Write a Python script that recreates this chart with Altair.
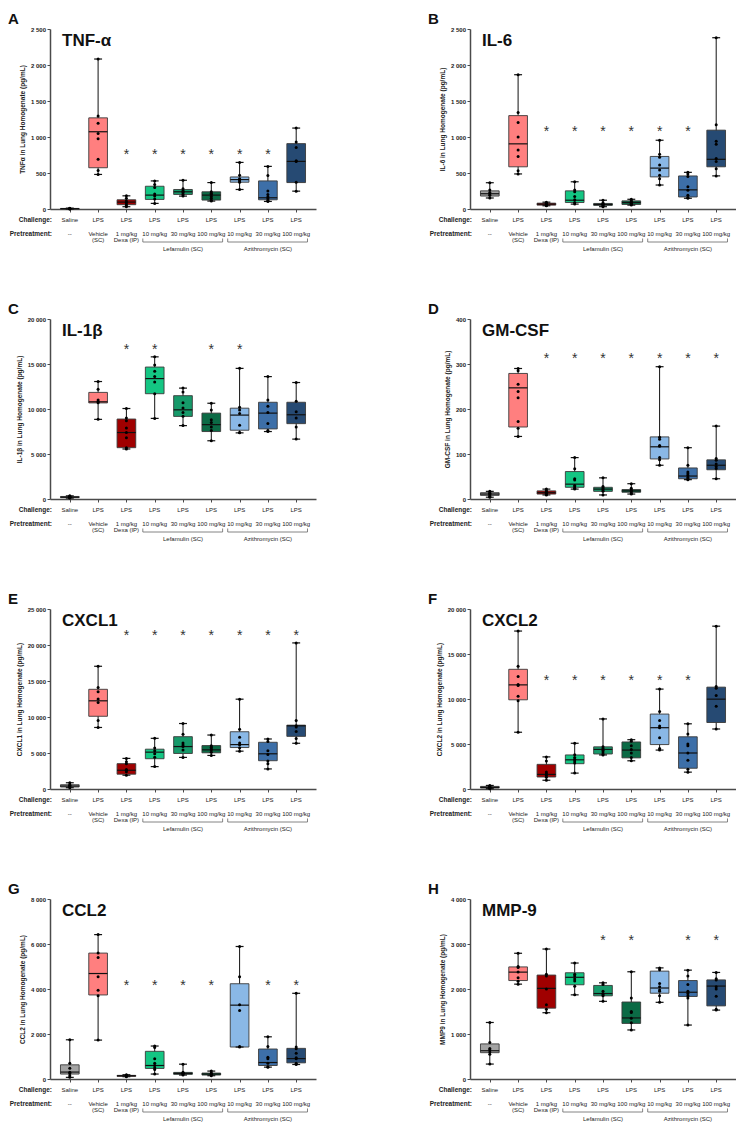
import altair as alt
import pandas as pd

FONT = "Liberation Sans"

groups = ["Saline", "Vehicle", "Dexa", "Lef10", "Lef30", "Lef100", "Azi10", "Azi30", "Azi100"]
colors = ["#a3a3a3", "#ff7f7f", "#a00000", "#14c683", "#169a6a", "#0b6a45", "#8ab8e6", "#3d6fa8", "#264a73"]
challenge = ["Saline"] + ["LPS"] * 8
pre_line1 = ["--", "Vehicle", "1 mg/kg", "10 mg/kg", "30 mg/kg", "100 mg/kg", "10 mg/kg", "30 mg/kg", "100 mg/kg"]
pre_line2 = ["", "(SC)", "Dexa (IP)", "", "", "", "", "", ""]
bracket_names = ["Lefamulin (SC)", "Azithromycin (SC)"]
bracket_first = [3, 6]
bracket_last = [5, 8]

# ---------------- Panel A: TNF-alpha ----------------
A_lo = [0, 480, 32, 78, 179, 110, 271, 105, 248]
A_q1 = [2, 573, 60, 133, 202, 124, 372, 128, 367]
A_med = [5, 1073, 96, 193, 239, 193, 408, 156, 661]
A_q3 = [8, 1266, 128, 316, 271, 239, 445, 390, 908]
A_hi = [12, 2083, 183, 390, 399, 367, 647, 592, 1124]
A_pts = [[0, 2, 4, 6, 8, 12],
         [2083, 1290, 1190, 1050, 975, 690, 535, 480],
         [183, 150, 110, 95, 70, 50, 32],
         [390, 340, 300, 210, 180, 140, 78],
         [399, 280, 255, 240, 225, 200, 179],
         [367, 240, 220, 200, 175, 150, 120, 110],
         [647, 470, 420, 405, 390, 370, 271],
         [592, 465, 250, 200, 170, 145, 120, 105],
         [1124, 930, 855, 670, 660, 370, 248]]
A_stars = [2, 3, 4, 5, 6, 7]
A_star_y = 800

# ---------------- Panel B: IL-6 ----------------
B_lo = [153, 487, 45, 68, 32, 54, 333, 149, 460]
B_q1 = [180, 586, 54, 90, 50, 63, 446, 167, 586]
B_med = [212, 905, 68, 122, 63, 90, 568, 266, 690]
B_q3 = [252, 1297, 81, 252, 77, 113, 730, 459, 1095]
B_hi = [365, 1865, 95, 378, 122, 135, 955, 509, 2379]
B_pts = [[365, 265, 230, 210, 190, 153],
         [1865, 1340, 1200, 1000, 820, 730, 530, 487],
         [95, 85, 75, 70, 60, 50, 45],
         [378, 265, 240, 175, 130, 90, 68],
         [122, 85, 75, 65, 55, 45, 32],
         [135, 115, 100, 90, 80, 65, 54],
         [955, 760, 720, 610, 540, 470, 420, 333],
         [509, 485, 450, 310, 260, 190, 160, 149],
         [2379, 1170, 940, 900, 700, 660, 560, 460]]
B_stars = [2, 3, 4, 5, 6, 7]
B_star_y = 1120

# ---------------- Panel C: IL-1beta ----------------
C_lo = [100, 8848, 5557, 8957, 8153, 6471, 7349, 7495, 6654]
C_q1 = [150, 10676, 5703, 11699, 9177, 7495, 7641, 7787, 8372]
C_med = [200, 10800, 7385, 13381, 9908, 8263, 9323, 9542, 9360]
C_q3 = [280, 11845, 8884, 14660, 11480, 9542, 10091, 10749, 10749]
C_hi = [350, 13052, 10054, 15794, 12320, 10640, 14514, 13600, 12942]
C_pts = [[350, 300, 250, 200, 170, 130, 100],
         [13052, 12200, 11000, 10800, 10700, 8848],
         [10054, 9000, 8700, 7900, 7400, 6800, 5700, 5557],
         [15794, 14900, 14200, 13600, 13000, 11700, 8957],
         [12320, 11900, 10700, 10100, 9600, 9200, 8153],
         [10640, 9900, 8800, 8500, 8000, 7600, 6471],
         [14514, 10200, 9900, 9500, 8200, 7400, 7349],
         [13600, 11000, 10300, 9600, 8400, 7600, 7495],
         [12942, 10850, 9700, 9000, 8000, 6654]]
C_stars = [2, 3, 5, 6]
C_star_y = 17000

# ---------------- Panel D: GM-CSF ----------------
D_lo = [4, 139, 9, 22, 9, 11, 75, 43, 45]
D_q1 = [8, 160, 11, 26, 17, 15, 89, 45, 65]
D_med = [11, 247, 14, 33, 22, 18, 116, 51, 75]
D_q3 = [14, 279, 18, 61, 26, 21, 138, 69, 87]
D_hi = [17, 290, 22, 92, 47, 34, 294, 114, 162]
D_pts = [[17, 14, 12, 11, 9, 6, 4],
         [290, 285, 255, 239, 225, 172, 157, 139],
         [22, 19, 16, 15, 13, 10, 9],
         [92, 67, 45, 42, 30, 27, 24, 22],
         [47, 28, 25, 22, 20, 17, 9],
         [34, 24, 20, 18, 16, 12, 11],
         [294, 137, 133, 119, 117, 92, 87, 75],
         [114, 75, 60, 56, 52, 48, 45, 43],
         [162, 90, 86, 78, 72, 68, 45]]
D_stars = [2, 3, 4, 5, 6, 7, 8]
D_star_y = 320

# ---------------- Panel E: CXCL1 ----------------
E_lo = [183, 8546, 1919, 3108, 4387, 4661, 5255, 2788, 6352]
E_q1 = [274, 10100, 2057, 4204, 4936, 5027, 5758, 3930, 7312]
E_med = [411, 12248, 2605, 5118, 5895, 5438, 6170, 4890, 8774]
E_q3 = [594, 13847, 3519, 5530, 7266, 6032, 7952, 6489, 8866]
E_hi = [868, 17046, 4250, 7038, 9094, 7495, 12476, 6946, 20290]
E_pts = [[868, 600, 500, 400, 300, 183],
         [17046, 14100, 13500, 12500, 12000, 9500, 8546],
         [4250, 3800, 3500, 2700, 2600, 2400, 1919],
         [7038, 5700, 5300, 4900, 4400, 3108],
         [9094, 7600, 6400, 6100, 5900, 5400, 4387],
         [7495, 6000, 5800, 5600, 5400, 5100, 4661],
         [12476, 8300, 7200, 6400, 6100, 5700, 5255],
         [6946, 6600, 5300, 4800, 3900, 3500, 2788],
         [20290, 9500, 8800, 8600, 8000, 7000, 6352]]
E_stars = [2, 3, 4, 5, 6, 7, 8]
E_star_y = 21800

# ---------------- Panel F: CXCL2 ----------------
F_lo = [36, 6307, 973, 1766, 3784, 3135, 4325, 1874, 6667]
F_q1 = [108, 9911, 1333, 2811, 3892, 3460, 4937, 2307, 7388]
F_med = [180, 11570, 1622, 3244, 4397, 4325, 6812, 4000, 9983]
F_q3 = [288, 13300, 2739, 3784, 4685, 5226, 8325, 5802, 11317]
F_hi = [396, 17550, 3568, 5082, 7785, 5478, 11100, 7244, 18092]
F_pts = [[396, 300, 200, 150, 100, 36],
         [17550, 13650, 12500, 11600, 11500, 10300, 9800, 6307],
         [3568, 3100, 1900, 1700, 1500, 1300, 973],
         [5082, 3800, 3500, 3300, 3100, 2900, 1766],
         [7785, 4700, 4500, 4300, 4100, 3900, 3784],
         [5478, 5300, 4800, 4400, 4000, 3500, 3135],
         [11100, 8600, 7600, 7000, 6800, 5700, 4500, 4325],
         [7244, 6100, 5000, 4800, 4000, 3200, 2200, 1874],
         [18092, 11400, 11200, 10400, 9200, 6667]]
F_stars = [2, 3, 4, 5, 6, 7]
F_star_y = 12400

# ---------------- Panel G: CCL2 ----------------
G_lo = [73, 1729, 103, 220, 176, 146, 1421, 527, 645]
G_q1 = [220, 3736, 117, 469, 205, 176, 1421, 600, 718]
G_med = [308, 4688, 146, 600, 249, 220, 3282, 732, 908]
G_q3 = [630, 5596, 161, 1230, 293, 264, 4234, 1333, 1362]
G_hi = [1743, 6417, 190, 1465, 659, 352, 5889, 1875, 3809]
G_pts = [[1743, 700, 480, 300, 250, 150, 73],
         [6417, 5600, 5400, 4550, 3950, 3700, 1729],
         [190, 170, 150, 130, 103],
         [1465, 1400, 900, 700, 600, 500, 420, 220],
         [659, 300, 270, 250, 220, 176],
         [352, 270, 230, 220, 200, 146],
         [5889, 4550, 3300, 3050, 1450, 1421],
         [1875, 1450, 970, 900, 700, 550, 527],
         [3809, 1420, 1350, 1150, 950, 900, 700, 645]]
G_stars = [2, 3, 4, 5, 7, 8]
G_star_y = 4300

# ---------------- Panel H: MMP-9 ----------------
H_lo = [332, 2108, 1473, 1870, 1726, 1090, 1704, 1199, 1531]
H_q1 = [585, 2188, 1574, 2094, 1848, 1235, 1906, 1834, 1625]
H_med = [628, 2375, 2014, 2260, 1899, 1357, 2022, 1928, 2065]
H_q3 = [780, 2491, 2310, 2361, 2079, 1711, 2397, 2188, 2202]
H_hi = [1256, 2794, 2888, 2577, 2137, 2383, 2469, 2419, 2368]
H_pts = [[1256, 810, 680, 650, 600, 550, 332],
         [2794, 2500, 2480, 2380, 2250, 2170, 2108],
         [2888, 2330, 2290, 2000, 1650, 1550, 1473],
         [2577, 2330, 2290, 2220, 2180, 2060, 1870],
         [2137, 2100, 1950, 1900, 1870, 1850, 1726],
         [2383, 1800, 1500, 1480, 1350, 1250, 1090],
         [2469, 2430, 2120, 2050, 1980, 1950, 1850, 1704],
         [2419, 2290, 2100, 1950, 1900, 1850, 1800, 1199],
         [2368, 2230, 2200, 2050, 2000, 1840, 1550, 1531]]
H_stars = [4, 5, 7, 8]
H_star_y = 3150

panels = [
    dict(letter="A", name="TNF-α", ytitle="TNFα in Lung Homogenate (pg/mL)", ymax=2500, step=500,
         lo=A_lo, q1=A_q1, med=A_med, q3=A_q3, hi=A_hi, pts=A_pts, stars=A_stars, star_y=A_star_y),
    dict(letter="B", name="IL-6", ytitle="IL-6 in Lung Homogenate (pg/mL)", ymax=2500, step=500,
         lo=B_lo, q1=B_q1, med=B_med, q3=B_q3, hi=B_hi, pts=B_pts, stars=B_stars, star_y=B_star_y),
    dict(letter="C", name="IL-1β", ytitle="IL-1β in  Lung Homogenate (pg/mL)", ymax=20000, step=5000,
         lo=C_lo, q1=C_q1, med=C_med, q3=C_q3, hi=C_hi, pts=C_pts, stars=C_stars, star_y=C_star_y),
    dict(letter="D", name="GM-CSF", ytitle="GM-CSF in Lung Homogenate (pg/mL)", ymax=400, step=100,
         lo=D_lo, q1=D_q1, med=D_med, q3=D_q3, hi=D_hi, pts=D_pts, stars=D_stars, star_y=D_star_y),
    dict(letter="E", name="CXCL1", ytitle="CXCL1 in Lung Homogenate (pg/mL)", ymax=25000, step=5000,
         lo=E_lo, q1=E_q1, med=E_med, q3=E_q3, hi=E_hi, pts=E_pts, stars=E_stars, star_y=E_star_y),
    dict(letter="F", name="CXCL2", ytitle="CXCL2 in Lung Homogenate (pg/mL)", ymax=20000, step=5000,
         lo=F_lo, q1=F_q1, med=F_med, q3=F_q3, hi=F_hi, pts=F_pts, stars=F_stars, star_y=F_star_y),
    dict(letter="G", name="CCL2", ytitle="CCL2 in Lung Homogenate (pg/mL)", ymax=8000, step=2000,
         lo=G_lo, q1=G_q1, med=G_med, q3=G_q3, hi=G_hi, pts=G_pts, stars=G_stars, star_y=G_star_y),
    dict(letter="H", name="MMP-9", ytitle="MMP9 in Lung Homogenate (pg/mL)", ymax=4000, step=1000,
         lo=H_lo, q1=H_q1, med=H_med, q3=H_q3, hi=H_hi, pts=H_pts, stars=H_stars, star_y=H_star_y),
]

W, H = 266, 180
AX = "#4a4a4a"


def make_panel(p):
    idx = list(range(len(groups)))
    xs = alt.Scale(domain=[-0.7, 8.7], nice=False, zero=False)
    ys = alt.Scale(domain=[0, p["ymax"]], nice=False, zero=True)

    box = pd.DataFrame({
        "idx": idx, "col": colors,
        "lo": p["lo"], "q1": p["q1"], "med": p["med"], "q3": p["q3"], "hi": p["hi"],
    })
    box["xl"] = box["idx"] - 0.33
    box["xr"] = box["idx"] + 0.33
    box["cl"] = box["idx"] - 0.14
    box["cr"] = box["idx"] + 0.14

    pts = pd.DataFrame([{"idx": i, "v": v} for i, vals in enumerate(p["pts"]) for v in vals])
    stars = pd.DataFrame({"idx": p["stars"], "sy": [p["star_y"]] * len(p["stars"])})
    labels = pd.DataFrame({"idx": idx, "ch": challenge, "p1": pre_line1, "p2": pre_line2})
    br = pd.DataFrame({"name": bracket_names, "first": bracket_first, "last": bracket_last})
    br["start"] = br["first"] - 0.42
    br["end"] = br["last"] + 0.40
    br["center"] = (br["first"] + br["last"]) / 2
    info = pd.DataFrame({"letter": [p["letter"]], "name": [p["name"]],
                         "h1": ["Challenge:"], "h2": ["Pretreatment:"]})

    x_axis = alt.Axis(values=idx, labels=False, title=None, grid=False, tickSize=3,
                      domainColor=AX, domainWidth=1.5, tickColor=AX, tickWidth=1)
    y_axis = alt.Axis(values=list(range(0, p["ymax"] + 1, p["step"])),
                      labelExpr="replace(format(datum.value, ','), ',', ' ')",
                      title=p["ytitle"], grid=False, tickSize=3, labelFontSize=6,
                      labelFontWeight="bold", labelColor="#222", labelPadding=1.5,
                      titleFontSize=6.5, titleFontWeight="bold", titleColor="#222",
                      titlePadding=5, domainColor=AX, domainWidth=1.5, tickColor=AX)

    def X(f):
        return alt.X(f"{f}:Q", scale=xs, axis=x_axis)

    def Y(f):
        return alt.Y(f"{f}:Q", scale=ys, axis=y_axis)

    whisk = alt.Chart(box).mark_rule(color="#111", strokeWidth=1).encode(
        x=X("idx"), y=Y("lo"), y2="hi:Q")
    rect = alt.Chart(box).mark_rect(stroke="#3a3a3a", strokeWidth=0.9).encode(
        x=X("xl"), x2="xr:Q", y=Y("q1"), y2="q3:Q",
        color=alt.Color("col:N", scale=None))
    med = alt.Chart(box).mark_rule(color="#111", strokeWidth=1.2).encode(
        x=X("xl"), x2="xr:Q", y=Y("med"))
    cap_lo = alt.Chart(box).mark_rule(color="#111", strokeWidth=1.2).encode(
        x=X("cl"), x2="cr:Q", y=Y("lo"))
    cap_hi = alt.Chart(box).mark_rule(color="#111", strokeWidth=1.2).encode(
        x=X("cl"), x2="cr:Q", y=Y("hi"))
    dots = alt.Chart(pts).mark_circle(size=9, color="#000", opacity=1).encode(
        x=X("idx"), y=Y("v"))
    star = alt.Chart(stars).mark_text(text="*", fontSize=14, color="#333", baseline="middle", dy=4).encode(
        x=X("idx"), y=Y("sy"))

    tx = dict(fontSize=6, color="#222", baseline="middle")
    row_ch = alt.Chart(labels).mark_text(**tx).encode(
        x=X("idx"), y=alt.value(H + 11), text="ch:N")
    row_p1 = alt.Chart(labels).mark_text(**tx).encode(
        x=X("idx"), y=alt.value(H + 24.5), text="p1:N")
    row_p2 = alt.Chart(labels).mark_text(**tx).encode(
        x=X("idx"), y=alt.value(H + 31), text="p2:N")
    head1 = alt.Chart(info).mark_text(fontSize=6.5, fontWeight="bold", align="right",
                                      baseline="middle", color="#222").encode(
        x=alt.value(2), y=alt.value(H + 11), text="h1:N")
    head2 = alt.Chart(info).mark_text(fontSize=6.5, fontWeight="bold", align="right",
                                      baseline="middle", color="#222").encode(
        x=alt.value(2), y=alt.value(H + 24.5), text="h2:N")
    br_line = alt.Chart(br).mark_rule(color="#666", strokeWidth=0.8).encode(
        x=X("start"), x2="end:Q", y=alt.value(H + 33))
    br_l = alt.Chart(br).mark_rule(color="#666", strokeWidth=0.8).encode(
        x=X("start"), y=alt.value(H + 29.5), y2=alt.value(H + 33))
    br_r = alt.Chart(br).mark_rule(color="#666", strokeWidth=0.8).encode(
        x=X("end"), y=alt.value(H + 29.5), y2=alt.value(H + 33))
    br_txt = alt.Chart(br).mark_text(**tx).encode(
        x=X("center"), y=alt.value(H + 40), text="name:N")
    letter = alt.Chart(info).mark_text(fontSize=15, fontWeight="bold", align="left",
                                       baseline="middle", color="#111").encode(
        x=alt.value(-42), y=alt.value(-10), text="letter:N")
    title = alt.Chart(info).mark_text(fontSize=17, fontWeight="bold", align="left",
                                      baseline="middle", color="#111").encode(
        x=alt.value(12), y=alt.value(12), text="name:N")

    return alt.layer(whisk, rect, med, cap_lo, cap_hi, dots, star,
                     row_ch, row_p1, row_p2, head1, head2,
                     br_line, br_l, br_r, br_txt, letter, title).properties(width=W, height=H)


charts = [make_panel(p) for p in panels]
chart = alt.concat(*charts, columns=2, spacing={"row": 110, "column": 154},
                   bounds="flush").properties(
    padding={"top": 4, "left": 0, "right": 0, "bottom": 0}).configure(
    font=FONT, view=alt.ViewConfig(stroke=None))

chart.save("out.html", embed_options={"renderer": "svg", "actions": False})
